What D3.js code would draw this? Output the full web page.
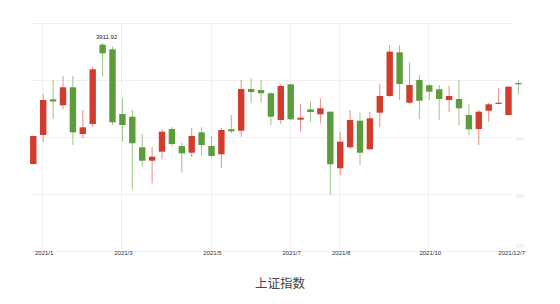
<!DOCTYPE html>
<html><head><meta charset="utf-8">
<script src="https://cdn.jsdelivr.net/npm/d3@7"></script>
<style>html,body{margin:0;padding:0;background:#fff;}svg{display:block;}</style>
</head><body>
<svg id="chart" width="560" height="304"></svg>
<script>
const categories = ["2020/12/28","2021/1/4","2021/1/11","2021/1/18","2021/1/25","2021/2/1","2021/2/8","2021/2/15","2021/2/22","2021/3/1",
"2021/3/8","2021/3/15","2021/3/22","2021/3/29","2021/4/5","2021/4/12","2021/4/19","2021/4/26","2021/5/3","2021/5/10",
"2021/5/17","2021/5/24","2021/5/31","2021/6/7","2021/6/14","2021/6/21","2021/6/28","2021/7/5","2021/7/12","2021/7/19",
"2021/7/26","2021/8/2","2021/8/9","2021/8/16","2021/8/23","2021/8/30","2021/9/6","2021/9/13","2021/9/20","2021/9/27",
"2021/10/4","2021/10/11","2021/10/18","2021/10/25","2021/11/1","2021/11/8","2021/11/15","2021/11/22","2021/11/29","2021/12/7"];
const openValues = [3381.6,3508.8,3665.3,3639.0,3718.0,3513.2,3557.0,3905.0,3884.6,3600.9,
3589.0,3454.8,3396.0,3435.5,3535.1,3460.5,3431.1,3520.6,3460.5,3424.1,
3533.8,3527.6,3710.5,3706.1,3691.7,3574.6,3731.1,3575.9,3621.5,3599.6,
3611.0,3362.7,3454.8,3571.5,3446.1,3606.6,3679.8,3871.5,3650.4,3750.0,
3726.8,3709.2,3662.3,3666.7,3596.5,3535.1,3615.3,3646.0,3596.5,3736.8];
const closeValues = [3504.4,3662.3,3655.7,3718.0,3520.6,3542.5,3796.9,3867.1,3564.5,3552.6,
3472.4,3396.0,3413.6,3523.2,3469.3,3428.5,3504.4,3464.9,3416.7,3530.7,
3525.0,3710.5,3697.4,3691.7,3589.0,3723.7,3577.6,3584.6,3609.6,3625.9,
3380.3,3479.4,3574.6,3431.1,3582.0,3679.8,3874.1,3732.5,3728.1,3659.2,
3698.7,3666.7,3679.8,3625.9,3533.8,3611.0,3643.4,3650.4,3720.6,3731.1];
const highValues = [3506.0,3688.6,3750.0,3767.5,3767.5,3618.4,3808.3,3911.92,3896.1,3672.4,
3618.4,3513.2,3457.5,3535.1,3543.9,3475.0,3538.2,3542.5,3504.4,3539.5,
3596.5,3750.0,3757.5,3750.0,3697.4,3732.5,3733.0,3644.7,3654.8,3669.7,
3613.0,3523.2,3618.4,3606.6,3611.0,3732.5,3904.0,3904.0,3825.9,3771.9,
3732.5,3728.1,3725.0,3750.0,3643.4,3618.4,3649.1,3713.6,3723.0,3750.0];
const lowValues = [3379.0,3478.1,3578.9,3621.5,3464.9,3495.6,3543.9,3764.5,3552.6,3479.4,
3270.6,3369.7,3296.9,3402.2,3457.5,3343.4,3411.0,3416.7,3407.9,3362.7,
3517.5,3501.3,3647.8,3650.4,3552.6,3557.0,3575.0,3523.2,3567.1,3560.1,
3245.6,3333.3,3447.4,3377.2,3443.0,3542.5,3675.4,3662.3,3644.7,3578.9,
3662.3,3574.6,3611.0,3552.6,3508.8,3464.9,3567.1,3644.7,3594.0,3688.6];
const xTickCats = ["2021/1/4","2021/3/1","2021/5/3","2021/6/28","2021/8/2","2021/10/4","2021/12/7"];
const xTickLabels = ["2021/1","2021/3","2021/5","2021/7","2021/8","2021/10","2021/12/7"];
const yGridValues = [3000,3250,3500,3750,4000];
const yAxisValues = [3500,3250,3000];
const yAxisLabels = ["6%","3%","0%"];
const titleText = "上证指数";

const svg = d3.select("#chart");
const x = d3.scalePoint().domain(categories).range([33.3, 518.4]);
const y = d3.scaleLinear().domain([3000, 4000]).range([251, 23]);
const gridX0 = 32, gridX1 = 512;

const data = categories.map((c,i)=>({c, o:openValues[i], cl:closeValues[i], h:highValues[i], l:lowValues[i]}));

// horizontal grid
svg.append("g").selectAll("line").data(yGridValues).join("line")
  .attr("x1", gridX0).attr("x2", gridX1)
  .attr("y1", d=>Math.round(y(d))+0.5).attr("y2", d=>Math.round(y(d))+0.5)
  .attr("stroke", "#f0f0f0").attr("stroke-width", 1);
// vertical grid
svg.append("g").selectAll("line").data(xTickCats.slice(0,-1)).join("line")
  .attr("x1", d=>Math.round(x(d))-0.5).attr("x2", d=>Math.round(x(d))-0.5)
  .attr("y1", y(4000)).attr("y2", 249)
  .attr("stroke", "#f0f0f0").attr("stroke-width", 1);

// x axis labels
const lastTick = xTickCats.length - 1;
svg.append("g").selectAll("text").data(xTickCats).join("text")
  .attr("x", (d,i)=> i===lastTick ? 525 : x(d)+1).attr("y", 255)
  .attr("text-anchor", (d,i)=> i===lastTick ? "end" : "middle")
  .attr("font-family","Liberation Sans, Arial, sans-serif")
  .attr("font-size", 6).attr("fill","#333")
  .text((d,i)=>xTickLabels[i]);

// y axis faint labels
svg.append("g").selectAll("text").data(yAxisValues).join("text")
  .attr("x", 520).attr("y", (d,i)=> i===2 ? y(d)-3 : y(d)+4)
  .attr("text-anchor","middle")
  .attr("font-family","Liberation Sans, Arial, sans-serif")
  .attr("font-size", 6).attr("fill","#e4e4e4")
  .text((d,i)=>yAxisLabels[i]);

const up = "#d23c2d", down = "#5b9c3b";
const upWick = "#e58f84", downWick = "#9cc487";
const bw = 6.4;
const g = svg.append("g");
g.selectAll("line.wick").data(data).join("line").attr("class","wick")
  .attr("x1", d=>x(d.c)).attr("x2", d=>x(d.c))
  .attr("y1", d=>y(d.h)).attr("y2", d=>y(d.l))
  .attr("stroke", d=>d.cl>=d.o?upWick:downWick).attr("stroke-width",1);
g.selectAll("rect").data(data).join("rect")
  .attr("x", d=>x(d.c)-bw/2).attr("width", bw)
  .attr("y", d=>y(Math.max(d.o,d.cl)))
  .attr("height", d=>Math.max(1.2, Math.abs(y(d.o)-y(d.cl))))
  .attr("fill", d=>d.cl>=d.o?up:down);

// max annotation
const maxIdx = d3.maxIndex(highValues);
svg.append("text")
  .attr("x", x(categories[maxIdx])+4).attr("y", y(highValues[maxIdx])-4)
  .attr("text-anchor","middle")
  .attr("font-family","Liberation Sans, Arial, sans-serif")
  .attr("font-size", 6).attr("fill","#222")
  .text(highValues[maxIdx].toFixed(2));

// title
svg.append("text").attr("x", 280).attr("y", 288)
  .attr("text-anchor","middle")
  .attr("font-family","Noto Sans CJK SC, sans-serif")
  .attr("font-size", 12.5).attr("fill","#444")
  .text(titleText);
</script>
</body></html>
